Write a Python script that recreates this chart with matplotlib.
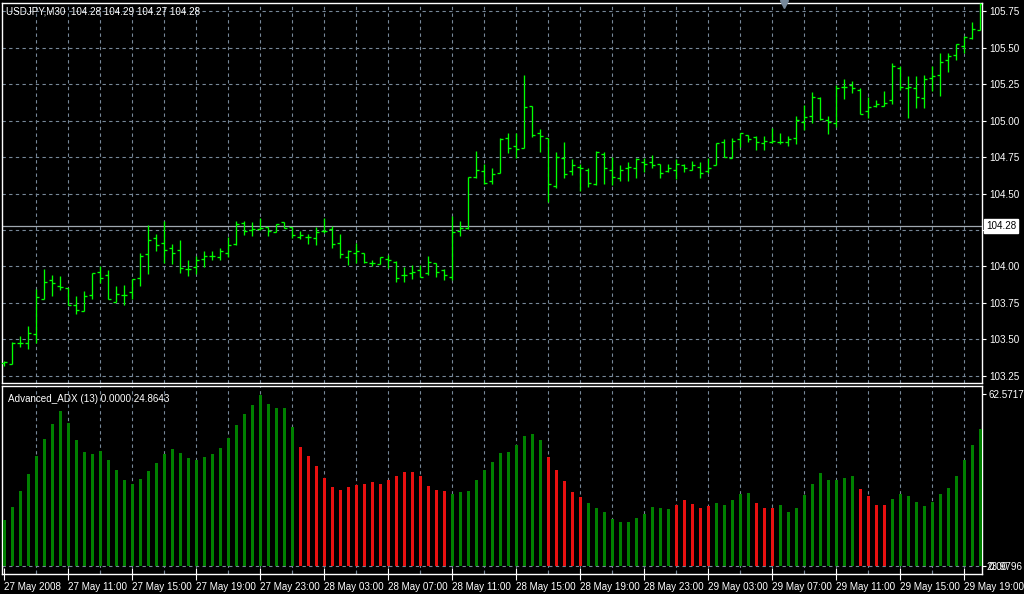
import matplotlib
matplotlib.use("Agg")
import matplotlib.pyplot as plt
import numpy as np

# ---------------- data ----------------
title_text = "USDJPY,M30  104.28 104.29 104.27 104.28"
ind_text = "Advanced_ADX (13) 0.0000 24.8643"
bid_price = 104.28

open_ = [103.335, 103.329, 103.473, 103.473, 103.535, 103.779, 103.905, 103.868, 103.850, 103.733,
         103.697, 103.802, 103.962, 103.939, 103.758, 103.802, 103.825, 103.918, 104.085, 104.193,
         104.159, 104.124, 104.111, 103.980, 103.994, 104.051, 104.069, 104.063, 104.090, 104.152,
         104.300, 104.252, 104.257, 104.268, 104.234, 104.303, 104.270, 104.202, 104.202, 104.193,
         104.241, 104.255, 104.159, 104.067, 104.095, 104.095, 104.021, 104.017, 104.049, 104.033,
         103.939, 103.957, 103.976, 103.953, 104.021, 103.976, 103.930, 104.241, 104.266, 104.616,
         104.655, 104.584, 104.639, 104.879, 104.824, 104.810, 105.098, 104.913, 104.879, 104.549,
         104.742, 104.652, 104.680, 104.659, 104.563, 104.769, 104.659, 104.604, 104.673, 104.673,
         104.714, 104.714, 104.700, 104.652, 104.659, 104.694, 104.659, 104.680, 104.652, 104.694,
         104.854, 104.742, 104.872, 104.899, 104.886, 104.844, 104.851, 104.851, 104.851, 104.879,
         104.988, 105.030, 105.153, 105.002, 104.982, 105.228, 105.245, 105.208, 105.064, 105.098,
         105.098, 105.142, 105.359, 105.222, 105.222, 105.153, 105.290, 105.311, 105.414, 105.448,
         105.510, 105.565, 105.619]
high = [103.349, 103.480, 103.523, 103.591, 103.843, 103.982, 103.941, 103.935, 103.850, 103.797,
        103.832, 103.955, 104.001, 103.976, 103.866, 103.873, 103.916, 104.090, 104.282, 104.223,
        104.309, 104.154, 104.179, 104.042, 104.074, 104.106, 104.104, 104.124, 104.204, 104.309,
        104.309, 104.303, 104.330, 104.268, 104.291, 104.303, 104.270, 104.241, 104.223, 104.268,
        104.330, 104.280, 104.223, 104.111, 104.161, 104.095, 104.042, 104.063, 104.079, 104.037,
        103.994, 104.012, 104.012, 104.070, 104.021, 103.980, 104.344, 104.310, 104.616, 104.792,
        104.700, 104.673, 104.879, 104.915, 104.915, 105.313, 105.098, 104.943, 104.879, 104.785,
        104.854, 104.737, 104.700, 104.675, 104.792, 104.785, 104.748, 104.694, 104.716, 104.742,
        104.742, 104.762, 104.700, 104.700, 104.737, 104.700, 104.721, 104.716, 104.742, 104.844,
        104.872, 104.879, 104.915, 104.899, 104.895, 104.895, 104.947, 104.915, 104.895, 105.032,
        105.105, 105.197, 105.160, 105.032, 105.245, 105.286, 105.272, 105.222, 105.162, 105.142,
        105.203, 105.393, 105.375, 105.306, 105.306, 105.313, 105.375, 105.464, 105.464, 105.526,
        105.581, 105.674, 105.809]
low = [103.319, 103.329, 103.450, 103.436, 103.477, 103.779, 103.797, 103.838, 103.733, 103.676,
       103.695, 103.777, 103.889, 103.775, 103.758, 103.738, 103.777, 103.868, 103.950, 104.108,
       104.026, 104.019, 103.953, 103.937, 103.950, 103.999, 104.042, 104.042, 104.067, 104.145,
       104.213, 104.211, 104.248, 104.211, 104.234, 104.261, 104.193, 104.191, 104.156, 104.149,
       104.227, 104.129, 104.060, 104.012, 104.026, 104.021, 104.001, 104.017, 103.989, 103.891,
       103.891, 103.916, 103.930, 103.939, 103.930, 103.905, 103.905, 104.211, 104.257, 104.604,
       104.566, 104.563, 104.639, 104.780, 104.744, 104.810, 104.890, 104.787, 104.440, 104.540,
       104.609, 104.630, 104.520, 104.545, 104.561, 104.568, 104.561, 104.588, 104.588, 104.609,
       104.648, 104.678, 104.609, 104.650, 104.602, 104.650, 104.659, 104.609, 104.639, 104.694,
       104.748, 104.742, 104.817, 104.856, 104.799, 104.799, 104.844, 104.840, 104.826, 104.840,
       104.933, 104.986, 105.004, 104.911, 104.956, 105.151, 105.190, 105.048, 105.016, 105.091,
       105.098, 105.116, 105.208, 105.020, 105.089, 105.089, 105.203, 105.171, 105.336, 105.416,
       105.462, 105.562, 105.619]
close = [103.343, 103.473, 103.473, 103.541, 103.793, 103.893, 103.884, 103.861, 103.738, 103.701,
         103.795, 103.955, 103.918, 103.775, 103.809, 103.806, 103.916, 104.069, 104.179, 104.147,
         104.111, 104.090, 103.992, 103.980, 104.044, 104.069, 104.069, 104.106, 104.147, 104.289,
         104.245, 104.257, 104.261, 104.241, 104.291, 104.266, 104.216, 104.216, 104.202, 104.234,
         104.241, 104.154, 104.086, 104.104, 104.104, 104.028, 104.021, 104.063, 104.042, 103.921,
         103.939, 103.962, 103.930, 104.031, 103.960, 103.939, 104.234, 104.261, 104.616, 104.662,
         104.570, 104.634, 104.872, 104.810, 104.803, 105.091, 104.899, 104.892, 104.563, 104.748,
         104.632, 104.694, 104.673, 104.570, 104.783, 104.673, 104.611, 104.659, 104.680, 104.735,
         104.700, 104.694, 104.639, 104.673, 104.700, 104.673, 104.694, 104.639, 104.673, 104.844,
         104.748, 104.860, 104.915, 104.872, 104.851, 104.858, 104.858, 104.851, 104.874, 105.002,
         105.023, 105.160, 105.009, 104.988, 105.222, 105.228, 105.222, 105.048, 105.091, 105.112,
         105.119, 105.375, 105.228, 105.228, 105.160, 105.283, 105.304, 105.400, 105.440, 105.523,
         105.574, 105.631, 105.800]

# ADX histogram values and colour flag (1 = bullish/green, 0 = bearish/red)
adx = [16.7, 21.5, 27.3, 33.5, 40.0, 46.2, 51.7, 56.4, 52.0, 45.8,
       41.5, 40.7, 41.8, 38.6, 34.9, 31.3, 29.8, 31.6, 34.5, 37.5,
       40.7, 42.6, 41.1, 39.3, 38.6, 39.7, 40.7, 42.9, 46.6, 51.3,
       55.3, 58.6, 62.2, 58.9, 57.5, 57.5, 50.6, 43.3, 40.0, 36.4,
       32.0, 28.7, 27.6, 28.7, 29.5, 29.8, 30.6, 29.8, 31.3, 32.7,
       34.2, 34.2, 32.7, 29.1, 27.6, 27.3, 26.2, 26.9, 27.3, 31.3,
       34.9, 37.8, 41.1, 41.5, 44.0, 47.3, 48.0, 45.8, 39.7, 34.9,
       30.9, 26.9, 25.1, 22.9, 21.1, 19.6, 17.1, 16.0, 16.0, 17.5,
       18.9, 21.5, 21.1, 20.7, 22.2, 24.0, 22.6, 21.1, 21.8, 22.9,
       22.2, 24.0, 26.2, 26.5, 22.9, 21.1, 21.1, 22.2, 19.6, 21.1,
       25.8, 29.8, 33.8, 31.3, 31.3, 32.0, 32.7, 28.0, 25.5, 22.2,
       22.2, 24.4, 26.2, 25.5, 23.3, 21.8, 23.3, 26.2, 28.4, 32.7,
       38.6, 44.0, 49.9]
adx_up = [1, 1, 1, 1, 1, 1, 1, 1, 1, 1,
          1, 1, 1, 1, 1, 1, 1, 1, 1, 1,
          1, 1, 1, 1, 1, 1, 1, 1, 1, 1,
          1, 1, 1, 1, 1, 1, 1, 0, 0, 0,
          0, 0, 0, 0, 0, 0, 0, 0, 0, 0,
          0, 0, 0, 0, 0, 0, 1, 1, 1, 1,
          1, 1, 1, 1, 1, 1, 1, 1, 0, 0,
          0, 0, 0, 1, 1, 1, 1, 1, 1, 1,
          1, 1, 1, 1, 0, 0, 0, 0, 0, 1,
          1, 1, 1, 1, 0, 0, 0, 1, 1, 1,
          1, 1, 1, 1, 1, 1, 1, 0, 0, 0,
          0, 1, 1, 1, 1, 1, 1, 1, 1, 1,
          1, 1, 1]
adx_max_label = "62.5717"
adx_min_labels = ["0.00", "23.9796"]

price_ticks = [103.25, 103.50, 103.75, 104.00, 104.25, 104.50, 104.75, 105.00, 105.25, 105.50, 105.75]
time_labels = ["27 May 2008", "27 May 11:00", "27 May 15:00", "27 May 19:00", "27 May 23:00",
               "28 May 03:00", "28 May 07:00", "28 May 11:00", "28 May 15:00", "28 May 19:00",
               "28 May 23:00", "29 May 03:00", "29 May 07:00", "29 May 11:00", "29 May 15:00",
               "29 May 19:00"]

# ---------------- layout ----------------
W, H = 1024, 594
DPI = 100
FONT = "Liberation Sans"
FS = 7.1
GRID = "#778899"
BAR_GREEN = "#00ff00"

fig = plt.figure(figsize=(W / DPI, H / DPI), dpi=DPI, facecolor="black")

def rect(x0, y0, x1, y1):
    return [x0 / W, 1 - y1 / H, (x1 - x0) / W, (y1 - y0) / H]

n = len(open_)
idx = np.arange(n)
# pixel x of bar i = 4.3 + 8 i ; axes spans px 2..982
xl = ((2 - 4.3) / 8, (982 - 4.3) / 8)

# main price panel
ax = fig.add_axes(rect(2, 2.5, 982, 382.5))
ax.set_facecolor("black")
ax.set_xlim(*xl)
ax.set_ylim(105.75 - (382.5 - 11.3) / 145.8, 105.75 + (11.3 - 2.5) / 145.8)

for t in np.arange(4, n, 4):
    ax.axvline(t, color=GRID, lw=0.8, ls=(0, (3, 3)), zorder=1)
for p in price_ticks:
    ax.axhline(p, color=GRID, lw=0.8, ls=(0, (3, 3)), zorder=1)

ax.axhline(bid_price, color="#a0a8b0", lw=0.9, zorder=2)

tick = 0.38
ax.vlines(idx, low, high, color=BAR_GREEN, lw=0.95, zorder=3)
ax.hlines(open_, idx - tick, idx, color=BAR_GREEN, lw=0.95, zorder=3)
ax.hlines(close, idx, idx + tick, color=BAR_GREEN, lw=0.95, zorder=3)

ax.yaxis.tick_right()
ax.set_yticks(price_ticks)
ax.set_yticklabels([f"{p:.2f}" for p in price_ticks])
ax.tick_params(axis="y", colors="white", length=3, width=0.8, pad=2, labelsize=FS)
for lab in ax.get_yticklabels():
    lab.set_fontfamily(FONT)
ax.set_xticks([])
for s in ax.spines.values():
    s.set_color("white")
    s.set_linewidth(1.0)

ax.text(0.004, 0.99, title_text, transform=ax.transAxes, color="white",
        fontsize=FS, family=FONT, va="top", ha="left")
# bid price label box
ax.annotate(f"{bid_price:.2f}", xy=(1.0, bid_price), xycoords=("axes fraction", "data"),
            xytext=(3, 0), textcoords="offset points", color="black", fontsize=FS, family=FONT,
            va="center", ha="left",
            bbox=dict(boxstyle="square,pad=0.2", fc="white", ec="white"), zorder=10,
            annotation_clip=False)
# chart shift marker
ax.plot([97.5], [105.80], marker="v", color=GRID, markersize=6, clip_on=False, zorder=5)

# indicator panel
ax2 = fig.add_axes(rect(2, 385.5, 982, 573.5))
ax2.set_facecolor("black")
ax2.set_xlim(*xl)
vmax = 62.5717
scale = vmax / (566 - 394)
ax2.set_ylim(-(573.5 - 566) * scale, (566 - 385.5) * scale)

for t in np.arange(4, n, 4):
    ax2.axvline(t, color=GRID, lw=0.8, ls=(0, (3, 3)), zorder=1)
ax2.axhline(0, color=GRID, lw=0.8, ls=(0, (3, 3)), zorder=1)

cols = ["#008000" if u else "#e81010" for u in adx_up]
ax2.bar(idx, adx, width=0.32, color=cols, zorder=3)

ax2.yaxis.tick_right()
ax2.set_yticks([vmax, 0])
ax2.set_yticklabels([adx_max_label, adx_min_labels[0]])
ax2.tick_params(axis="y", colors="white", length=3, width=0.8, pad=2, labelsize=FS)
for lab in ax2.get_yticklabels():
    lab.set_fontfamily(FONT)
ax2.annotate(adx_min_labels[1], xy=(1.0, 0), xycoords=("axes fraction", "data"),
             xytext=(3, -1), textcoords="offset points", color="white", fontsize=FS, family=FONT,
             va="center", ha="left", annotation_clip=False)

major = np.arange(0, n, 8)
minor = np.arange(4, n, 8)
ax2.set_xticks(major)
ax2.set_xticklabels(time_labels[:len(major)])
ax2.set_xticks(minor, minor=True)
ax2.tick_params(axis="x", which="major", colors="white", direction="inout", length=8, width=0.8, pad=2,
                labelsize=FS)
ax2.tick_params(axis="x", which="minor", colors=GRID, direction="in", length=3, width=0.8)
for lab in ax2.get_xticklabels():
    lab.set_fontfamily(FONT)
    lab.set_horizontalalignment("left")
for s in ax2.spines.values():
    s.set_color("white")
    s.set_linewidth(1.0)

ax2.text(0.006, 0.955, ind_text, transform=ax2.transAxes, color="white",
         fontsize=FS, family=FONT, va="top", ha="left")

fig.savefig("out.png", dpi=DPI, facecolor="black")
